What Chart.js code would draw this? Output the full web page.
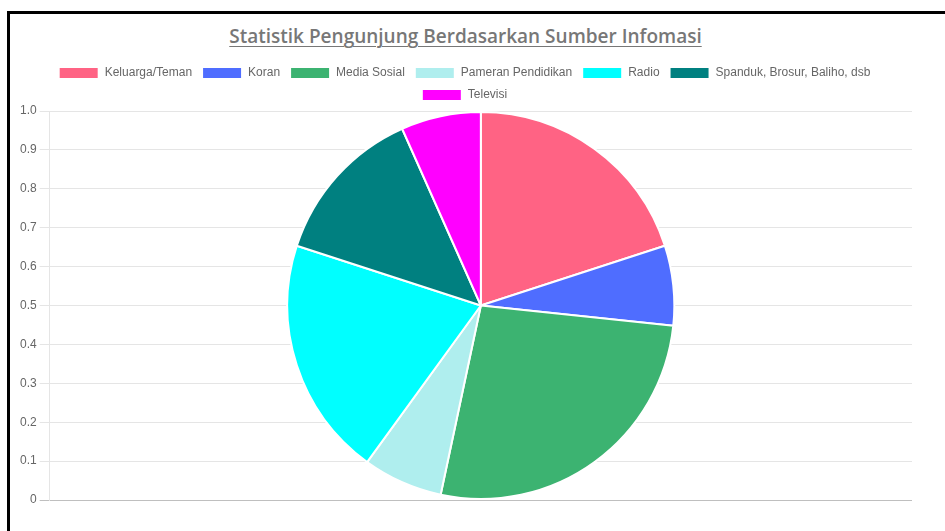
<!DOCTYPE html>
<html>
<head>
<meta charset="utf-8">
<script src="https://cdn.jsdelivr.net/npm/chart.js@4.4.1/dist/chart.umd.min.js"></script>
<style>
  html, body { margin: 0; padding: 0; background: #fff; width: 945px; height: 531px; overflow: hidden; }
  #frame { position: absolute; left: 7px; top: 11px; width: 960px; height: 540px;
           border-left: 3px solid #000; border-top: 3px solid #000; box-sizing: border-box; }
  #title { position: absolute; left: 10px; width: 911px; top: 23px; text-align: center;
           font-family: "Open Sans", sans-serif; font-size: 19px; font-weight: 600; color: #777;
           text-decoration: underline; text-underline-offset: 3px; text-decoration-thickness: 1px; }
  #wrap { position: absolute; left: 10px; top: 57px; width: 911px; height: 452px; }
</style>
</head>
<body>
<div id="frame"></div>
<div id="title">Statistik Pengunjung Berdasarkan Sumber Infomasi</div>
<div id="wrap"><canvas id="c"></canvas></div>
<script>
const categories = ["Keluarga/Teman", "Koran", "Media Sosial", "Pameran Pendidikan", "Radio", "Spanduk, Brosur, Baliho, dsb", "Televisi"];
const visitors = [3, 1, 4, 1, 3, 2, 1];
const sliceColors = ["#ff6384", "#4f6dff", "#3cb371", "#afeeee", "#00ffff", "#008080", "#ff00ff"];
const yTickLabels = ["0", "0.1", "0.2", "0.3", "0.4", "0.5", "0.6", "0.7", "0.8", "0.9", "1.0"];

const font = { family: '"Liberation Sans", Arial, sans-serif', size: 12, lineHeight: 1 };

new Chart(document.getElementById('c'), {
  type: 'pie',
  data: {
    labels: categories,
    datasets: [{
      data: visitors,
      backgroundColor: sliceColors,
      borderColor: '#fff',
      borderWidth: 2
    }]
  },
  options: {
    responsive: true,
    maintainAspectRatio: false,
    animation: false,
    layout: { padding: { left: 7, right: 9, top: 0, bottom: 0 } },
    plugins: {
      legend: {
        position: 'top',
        labels: { boxWidth: 40, boxHeight: 12, padding: 10, color: '#666', font: font }
      },
      tooltip: { enabled: false }
    },
    scales: {
      y: {
        type: 'linear',
        display: true,
        min: 0,
        max: 1,
        ticks: {
          stepSize: 0.1,
          color: '#666',
          font: font,
          padding: 3,
          callback: (v, i) => yTickLabels[i]
        },
        grid: {
          tickLength: 10,
          color: (ctx) => (ctx.tick && ctx.tick.value === 0) ? 'rgba(0,0,0,0.25)' : 'rgba(0,0,0,0.1)'
        },
        border: { display: true, color: 'rgba(0,0,0,0.1)' }
      }
    }
  }
});
</script>
</body>
</html>
